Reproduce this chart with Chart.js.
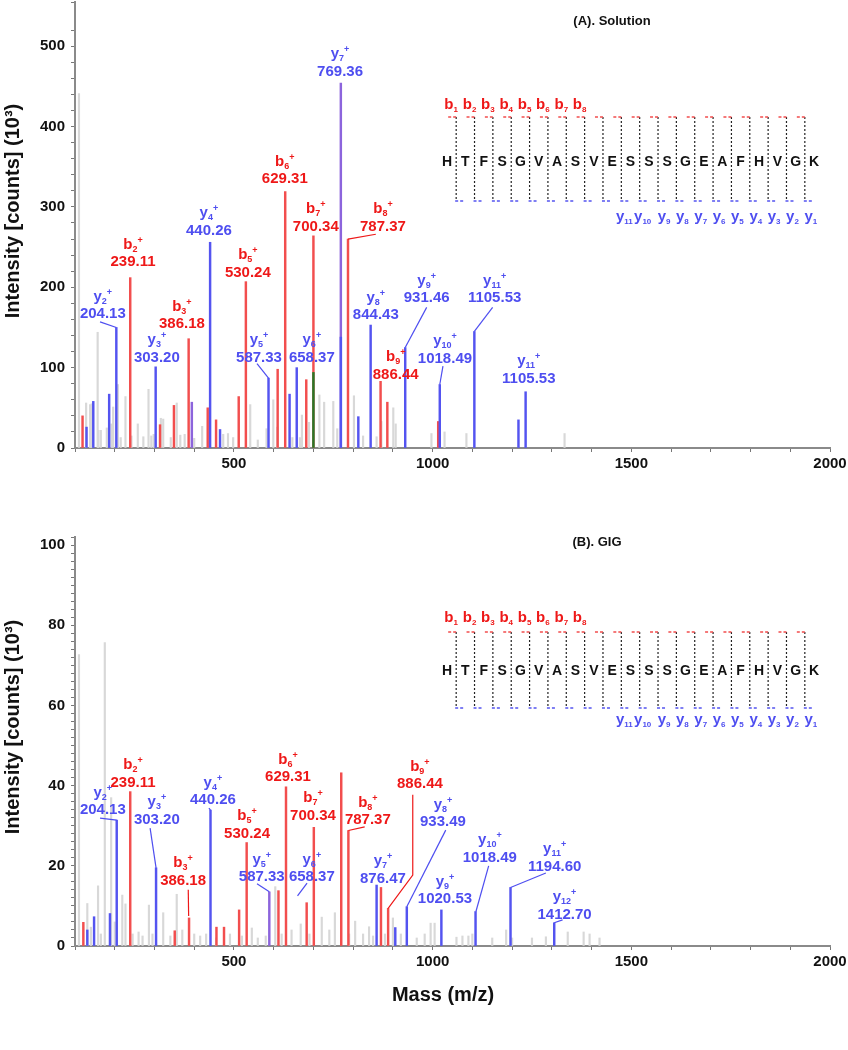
<!DOCTYPE html>
<html><head><meta charset="utf-8">
<script src="https://cdn.jsdelivr.net/npm/chart.js@4.4.1/dist/chart.umd.min.js"></script>
<style>
html,body{margin:0;padding:0;background:#fff;}
#wrap{position:relative;width:848px;height:1050px;overflow:hidden;background:#fff;}
.pane{position:absolute;left:0;width:848px;}
</style></head><body>
<div id="wrap">
<div class="pane" style="top:0;height:480px"><canvas id="cA"></canvas></div>
<div class="pane" style="top:480px;height:570px"><canvas id="cB"></canvas></div>
</div>
<script>
// ---------------- DATA ----------------
// Panel A (Solution) peaks: m/z and intensity (10^3 counts)
const massA_red   = [119,239,314,349,386,434,455,512,530,610,629,682,700,787,869,886,1014];
const intA_red    = [40,212,29,53,136,50,35,64,207,98,319,85,264,260,83,57,33];
const massA_blue  = [129,146,186,204,303,440,465,587,640,658,769,813,844,931,1018,1105,1216,1234];
const intA_blue   = [26,58,67,150,101,256,23,87,67,100,138,39,153,125,79,145,35,70];
const massA_purple= [394,769];
const intA_purple = [57,454];
const massA_green = [700];
const intA_green  = [94];
const massA_gray  = [110,128,138,142,157,159,165,180,192,196,208,215,227,242,258,272,285,292,298,316,322,341,356,365,376,400,420,473,485,498,541,560,582,599,609,647,666,671,689,715,727,750,760,802,825,859,871,901,907,997,1030,1085,1332];
const intA_gray   = [441,56,54,55,144,22,22,25,30,51,79,13,64,15,30,14,73,15,17,37,36,13,56,16,17,12,27,17,18,13,54,10,24,60,26,13,13,41,32,66,57,58,24,65,15,14,33,50,30,18,20,18,18];

// Panel B (GIG) peaks
const massB_red   = [121,239,351,387,456,475,513,532,612,631,683,701,770,788,870,888];
const intB_red    = [5.9,38.5,3.8,7,4.7,4.7,9,25.8,13.8,39.7,10.8,29.6,43.2,28.8,14.6,9.4];
const massB_blue  = [131,148,188,205,304,441,859,906,935,1022,1108,1196,1306];
const intB_blue   = [4,7.3,8.1,31.4,19.5,33.9,15.2,4.6,9.8,9,8.6,14.6,5.8];
const massB_purple= [589];
const intB_purple = [13.5];
const massB_gray  = [110,131,140,158,165,175,191,200,219,227,245,260,270,286,295,322,340,356,370,400,415,430,455,490,520,545,560,580,604,620,645,668,690,721,740,754,790,805,825,840,850,880,900,920,960,980,995,1005,1060,1075,1090,1100,1150,1185,1200,1250,1285,1340,1380,1395,1420];
const intB_gray   = [72.7,10.6,4.7,15,3,75.7,37,6,12.7,10.5,3,3.5,2.5,10.2,3,8.3,2.5,12.9,4,3,2.5,3,2,3,2.5,4.5,2,2.5,14.8,3,4,5.5,3,7.2,4,8.3,3,6.2,3,4.8,2.5,3,7,3,2,3,5.7,5.7,2.2,2.5,2.5,3,2,4,2,2,2.3,3.5,3.5,3,2];

// Axis tick settings
const xMin = 100, xMax = 2000, xStep = 100, xLabelEvery = 500;
const yA_max = 555, yA_step = 20, yA_labelEvery = 100;
const yB_max = 102, yB_step = 2,  yB_labelEvery = 20;

// Peptide sequence
const sequence = "HTFSGVASVESSSGEAFHVGK";
const bIons = [1,2,3,4,5,6,7,8];
const yIons = [11,10,9,8,7,6,5,4,3,2,1];

// Peak labels (ion, index, m/z text, colour, label centre in data units, leader line points)
const annA = [
 {t:'y',n:'2', mz:'204.13', c:'b', at:[170,168], ld:[[163,157],[204,150]]},
 {t:'b',n:'2', mz:'239.11', c:'r', at:[246,233]},
 {t:'y',n:'3', mz:'303.20', c:'b', at:[306,114]},
 {t:'b',n:'3', mz:'386.18', c:'r', at:[369,156]},
 {t:'y',n:'4', mz:'440.26', c:'b', at:[437,272]},
 {t:'b',n:'5', mz:'530.24', c:'r', at:[535,220]},
 {t:'y',n:'5', mz:'587.33', c:'b', at:[563,114], ld:[[558,105],[587,87]]},
 {t:'y',n:'6', mz:'658.37', c:'b', at:[696,114]},
 {t:'b',n:'6', mz:'629.31', c:'r', at:[628,336]},
 {t:'b',n:'7', mz:'700.34', c:'r', at:[706,277]},
 {t:'y',n:'7', mz:'769.36', c:'b', at:[767,470]},
 {t:'b',n:'8', mz:'787.37', c:'r', at:[875,277], ld:[[857,266],[787,260]]},
 {t:'y',n:'8', mz:'844.43', c:'b', at:[857,167]},
 {t:'b',n:'9', mz:'886.44', c:'r', at:[907,93]},
 {t:'y',n:'9', mz:'931.46', c:'b', at:[985,188], ld:[[985,175],[931,125]]},
 {t:'y',n:'10',mz:'1018.49',c:'b', at:[1031,113], ld:[[1026,102],[1018,79]]},
 {t:'y',n:'11',mz:'1105.53',c:'b', at:[1156,188], ld:[[1151,175],[1105,145]]},
 {t:'y',n:'11',mz:'1105.53',c:'b', at:[1242,88]}
];
const annB = [
 {t:'y',n:'2', mz:'204.13', c:'b', at:[170,34.2], ld:[[163,31.9],[205,31.4]]},
 {t:'b',n:'2', mz:'239.11', c:'r', at:[246,41.1]},
 {t:'y',n:'3', mz:'303.20', c:'b', at:[306,31.9], ld:[[289,29.4],[304,19.5]]},
 {t:'b',n:'3', mz:'386.18', c:'r', at:[372,16.7], ld:[[385,14],[386,7.5]]},
 {t:'y',n:'4', mz:'440.26', c:'b', at:[447,36.7], ld:[[437,34.4],[441,33.9]]},
 {t:'b',n:'5', mz:'530.24', c:'r', at:[533,28.4]},
 {t:'y',n:'5', mz:'587.33', c:'b', at:[570,17.5], ld:[[558,15.5],[589,13.5]]},
 {t:'y',n:'6', mz:'658.37', c:'b', at:[696,17.5], ld:[[684,15.7],[660,12.5]]},
 {t:'b',n:'6', mz:'629.31', c:'r', at:[636,42.4]},
 {t:'b',n:'7', mz:'700.34', c:'r', at:[699,32.9]},
 {t:'b',n:'8', mz:'787.37', c:'r', at:[837,31.7], ld:[[829,29.7],[788,28.8]]},
 {t:'y',n:'7', mz:'876.47', c:'b', at:[875,17.2]},
 {t:'b',n:'9', mz:'886.44', c:'r', at:[968,40.7], ld:[[950,37.7],[950,17.7],[888,9.4]]},
 {t:'y',n:'8', mz:'933.49', c:'b', at:[1026,31.2], ld:[[1033,28.9],[935,9.8]]},
 {t:'y',n:'9', mz:'1020.53',c:'b', at:[1031,12.0]},
 {t:'y',n:'10',mz:'1018.49',c:'b', at:[1144,22.4], ld:[[1141,20],[1109,8.6]]},
 {t:'y',n:'11',mz:'1194.60',c:'b', at:[1307,20.2], ld:[[1285,18.2],[1196,14.6]]},
 {t:'y',n:'12',mz:'1412.70',c:'b', at:[1332,8.2], ld:[[1327,6.5],[1306,5.8]]}
];

// ---------------- STYLE ----------------
const FF = '"Liberation Sans", Arial, Helvetica, sans-serif';
const C_RED = 'rgb(242,78,78)', C_BLUE = 'rgb(84,84,240)', C_GRAY = 'rgb(216,216,216)',
      C_PURPLE = 'rgb(140,100,220)', C_GREEN = 'rgb(40,120,40)';
const T_RED = 'rgb(238,24,24)', T_BLUE = 'rgb(78,78,240)';

function pts(ms, vs){ return ms.map((m,i)=>({x:m, y:vs[i]})); }
function ds(ms, vs, color, order, w){
  return {data: pts(ms,vs), backgroundColor: color, borderWidth:0, barThickness: w||1.8,
          grouped:false, order: order};
}

function drawIon(ctx, cx, baseY, letter, sub, sup, col, big, small){
  ctx.save();
  ctx.fillStyle = col; ctx.textAlign = 'left'; ctx.textBaseline = 'alphabetic';
  ctx.font = 'bold '+big+'px '+FF; const w1 = ctx.measureText(letter).width;
  ctx.font = 'bold '+small+'px '+FF; const w2 = ctx.measureText(sub).width;
  const w3 = sup ? ctx.measureText(sup).width : 0;
  const total = w1 + w2 + w3;
  let x = cx - total/2;
  ctx.font = 'bold '+big+'px '+FF; ctx.fillText(letter, x, baseY);
  ctx.font = 'bold '+small+'px '+FF; ctx.fillText(sub, x + w1, baseY + 3);
  if (sup) ctx.fillText(sup, x + w1 + w2, baseY - 6);
  ctx.restore();
}

const annPlugin = {
  id: 'ann',
  afterDatasetsDraw(chart, args, o){
    const ctx = chart.ctx, xs = chart.scales.x, ys = chart.scales.y;
    const P = (m,v)=>[xs.getPixelForValue(m), ys.getPixelForValue(v)];
    ctx.save();
    // peak labels
    for (const a of o.items){
      const col = a.c === 'r' ? T_RED : T_BLUE;
      if (a.ld){
        ctx.strokeStyle = col; ctx.lineWidth = 1.2; ctx.beginPath();
        a.ld.forEach((p,i)=>{ const q = P(p[0],p[1]); if(i) ctx.lineTo(q[0],q[1]); else ctx.moveTo(q[0],q[1]); });
        ctx.stroke();
      }
      const [cx, cy] = P(a.at[0], a.at[1]);
      ctx.fillStyle = col; ctx.textAlign = 'center'; ctx.textBaseline = 'alphabetic';
      ctx.font = 'bold 15px '+FF;
      ctx.fillText(a.mz, cx, cy + 5.5);
      drawIon(ctx, cx, cy - 17 + 5, a.t, a.n, '+', col, 15, 9);
    }
    // sequence diagram
    const s = o.seq, x0 = 447, dx = 18.35;
    const dv = i => x0 + (i - 0.5) * dx;
    ctx.fillStyle = '#111'; ctx.textAlign = 'center'; ctx.textBaseline = 'middle';
    ctx.font = 'bold 14px '+FF;
    for (let i=0;i<sequence.length;i++) ctx.fillText(sequence[i], x0 + i*dx, s.res);
    for (let i=1;i<sequence.length;i++){
      const x = dv(i);
      ctx.setLineDash([2,2]); ctx.strokeStyle = '#222'; ctx.lineWidth = 1.2;
      ctx.beginPath(); ctx.moveTo(x, s.top); ctx.lineTo(x, s.bot); ctx.stroke();
      ctx.setLineDash([3,2]); ctx.lineWidth = 1.3;
      ctx.strokeStyle = C_RED; ctx.beginPath(); ctx.moveTo(x-8, s.top); ctx.lineTo(x+1, s.top); ctx.stroke();
      ctx.strokeStyle = C_BLUE; ctx.beginPath(); ctx.moveTo(x-1, s.bot); ctx.lineTo(x+9, s.bot); ctx.stroke();
    }
    ctx.setLineDash([]);
    bIons.forEach(k => drawIon(ctx, dv(k) - 5, s.b + 5, 'b', String(k), '', T_RED, 15, 8));
    yIons.forEach(k => drawIon(ctx, dv(21-k) + (k>=10 ? 3 : 6), s.y + 3, 'y', String(k), '', T_BLUE, 15, 8));
    // panel title
    ctx.fillStyle = '#111'; ctx.textAlign = 'center'; ctx.textBaseline = 'middle';
    ctx.font = 'bold 13px '+FF; ctx.fillText(o.title, o.titleX, o.titleY);
    // axis titles
    ctx.font = 'bold 20px '+FF;
    ctx.save(); ctx.translate(13, o.yTitleY); ctx.rotate(-Math.PI/2);
    ctx.fillText('Intensity [counts] (10\u00B3)', 0, 0); ctx.restore();
    if (o.xTitle) ctx.fillText(o.xTitle, 443, o.xTitleY);
    ctx.restore();
  }
};

function makeChart(id, sets, yMax, yStep, yEvery, pad, xH, plug){
  const isLab = (v, e) => Math.abs(v/e - Math.round(v/e)) < 1e-6;
  return new Chart(document.getElementById(id), {
    type: 'bar',
    data: { datasets: sets },
    plugins: [annPlugin],
    options: {
      responsive: true, maintainAspectRatio: false, animation: false,
      layout: { padding: pad },
      plugins: { legend:{display:false}, tooltip:{enabled:false}, ann: plug },
      scales: {
        x: { type:'linear', min:xMin, max:xMax, offset:false,
             grid:{ display:true, offset:false, drawOnChartArea:false, drawTicks:true, tickLength:4, color:'#777', lineWidth:1 },
             border:{ display:true, color:'#8a8a8a', width:2 },
             ticks:{ stepSize:xStep, autoSkip:false, maxRotation:0, padding:3, color:'#111',
                     font:{family:FF, size:15, weight:'bold'},
                     callback: v => isLab(v, xLabelEvery) ? String(v) : '' },
             afterFit(s){ s.height = xH; s.paddingLeft = 0; s.paddingRight = 0; } },
        y: { type:'linear', min:0, max:yMax,
             grid:{ display:true, drawOnChartArea:false, drawTicks:true, tickLength:4, color:'#777', lineWidth:1 },
             border:{ display:true, color:'#8a8a8a', width:2 },
             ticks:{ stepSize:yStep, autoSkip:false, padding:6, color:'#111',
                     font:{family:FF, size:15, weight:'bold'},
                     callback: v => isLab(v, yEvery) ? String(v) : '' },
             afterFit(s){ s.width = 75; s.paddingTop = 0; s.paddingBottom = 0; } }
      }
    }
  });
}

makeChart('cA', [
    ds(massA_green, intA_green, C_GREEN, 1),
    ds(massA_blue, intA_blue, C_BLUE, 2),
    ds(massA_purple, intA_purple, C_PURPLE, 3),
    ds(massA_red, intA_red, C_RED, 3),
    ds(massA_gray, intA_gray, C_GRAY, 5, 1.5)
  ], yA_max, yA_step, yA_labelEvery, {left:0, right:18, top:2, bottom:0}, 32,
  { items: annA, seq:{b:104, top:117, res:162, bot:201, y:218},
    title:'(A). Solution', titleX:612, titleY:21, yTitleY:211, xTitle:null });

makeChart('cB', [
    ds(massB_blue, intB_blue, C_BLUE, 2),
    ds(massB_purple, intB_purple, C_PURPLE, 3),
    ds(massB_red, intB_red, C_RED, 3),
    ds(massB_gray, intB_gray, C_GRAY, 5, 1.5)
  ], yB_max, yB_step, yB_labelEvery, {left:0, right:18, top:57, bottom:0}, 104,
  { items: annB, seq:{b:137, top:152, res:191, bot:228, y:241},
    title:'(B). GIG', titleX:597, titleY:62, yTitleY:247, xTitle:'Mass (m/z)', xTitleY:515 });
</script>
</body></html>
